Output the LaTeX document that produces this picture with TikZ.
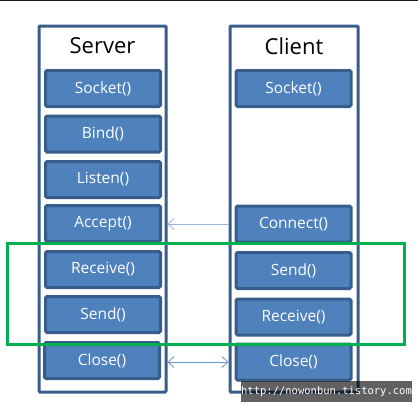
\documentclass[tikz,border=0pt]{standalone}
\usepackage{fontspec}
\setmainfont{Open Sans}
\newfontfamily\wmfont{DejaVu Sans Mono}
\usepackage{xcolor}
\usetikzlibrary{arrows.meta}

\definecolor{boxblue}{HTML}{4F81BD}
\definecolor{edgeblue}{HTML}{385D8A}
\definecolor{linkblue}{HTML}{6A95CC}
\definecolor{loopgreen}{HTML}{00B050}

\begin{document}
\begin{tikzpicture}[x=1pt,y=-1pt,
		>={Straight Barb[length=6pt,width=11pt]},
		side/.style={draw=edgeblue, line width=3pt, fill=white, rounded corners=1pt, inner sep=0pt},
		call/.style={draw=edgeblue, line width=3pt, fill=boxblue, rounded corners=1.5pt,
			minimum width=115pt, minimum height=36pt, inner sep=0pt, text=white, font=\fontsize{15.5}{17}\selectfont},
		title/.style={font=\fontsize{22}{24}\selectfont},
		link/.style={draw=linkblue, line width=0.8pt}]
				\useasboundingbox (0,0) rectangle (418,405);
				\draw[black!90, line width=1pt] (0,0.5) -- (418,0.5);
				
				% Outer columns
				\node[side, minimum width=127pt, minimum height=366pt] (srv) at (102.5,209) {};
				\node[side, minimum width=128pt, minimum height=366pt] (cli) at (294,209) {};
				\node[title] (srvtitle) at (102.5,46) {Server};
				\node[title] (clititle) at (294,46) {Client};
				
				% Server calls
				\node[call] (ssocket) at (103,88.5) {Socket()};
				\node[call] (sbind) at (103,134) {Bind()};
				\node[call] (slisten) at (103,179.5) {Listen()};
				\node[call] (saccept) at (103,223.5) {Accept()};
				\node[call] (sreceive) at (103,269.5) {Receive()};
				\node[call] (ssend) at (103,314.5) {Send()};
				\node[call] (sclose) at (102,360.5) {Close()};
				
				% Client calls
				\node[call] (csocket) at (293.5,88.5) {Socket()};
				\node[call] (cconnect) at (293.5,224) {Connect()};
				\node[call] (csend) at (293.5,270.5) {Send()};
				\node[call] (creceive) at (293.5,317) {Receive()};
				\node[call] (cclose) at (293.5,362) {Close()};
				
				% Exchange loop
				\draw[loopgreen, line width=3pt] (7,243) rectangle (404,344);
				
				% Links
				\draw[link, <-, draw=linkblue!70] (srv.east |- cconnect) -- (cli.west |- cconnect);
				\draw[link, <->] (srv.east |- cclose) -- (cli.west |- cclose);
				
				% Watermark
				\node[fill=black, fill opacity=0.62, text opacity=1, text=white, inner sep=0pt,
					minimum width=167pt, minimum height=21pt, font=\wmfont\fontsize{10.5}{12}\selectfont] (mark) at (326.5,391.5) {http://nowonbun.tistory.com};
			\end{tikzpicture}
\end{document}
